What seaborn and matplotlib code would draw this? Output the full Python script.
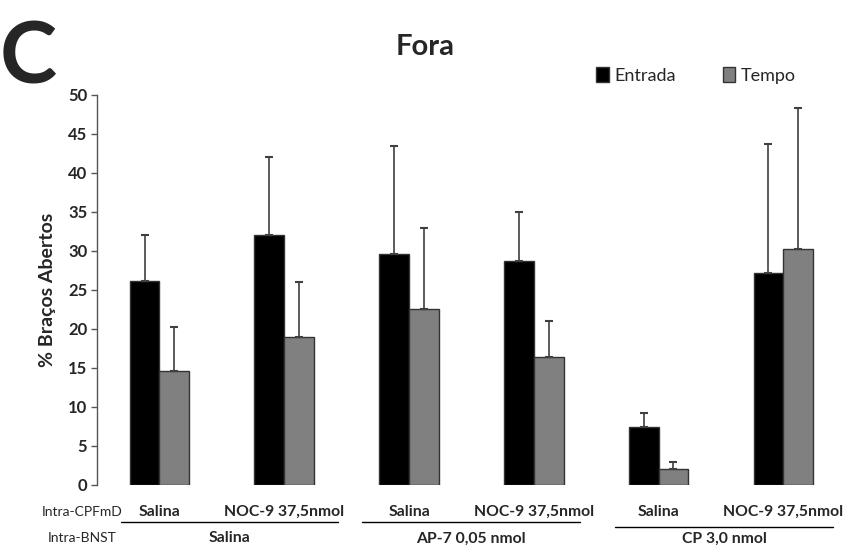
import pandas as pd
import matplotlib.pyplot as plt
import numpy as np
import seaborn as sns

# Group values (% open arms)
groups = ["Sal-Sal", "Sal-NOC", "AP7-Sal", "AP7-NOC", "CP-Sal", "CP-NOC"]
cpfmd_labels = ["Salina", "NOC-9 37,5nmol", "Salina", "NOC-9 37,5nmol", "Salina", "NOC-9 37,5nmol"]
bnst_labels = ["Salina", "AP-7 0,05 nmol", "CP 3,0 nmol"]
entrada = [26.2, 32.0, 29.6, 28.7, 7.4, 27.2]
entrada_err = [5.8, 10.0, 13.9, 6.3, 1.8, 16.5]
tempo = [14.6, 19.0, 22.5, 16.4, 2.0, 30.2]
tempo_err = [5.7, 7.0, 10.5, 4.6, 0.9, 18.1]
yticks = [0, 5, 10, 15, 20, 25, 30, 35, 40, 45, 50]

df = pd.DataFrame({
    "grupo": groups * 2,
    "medida": ["Entrada"] * len(groups) + ["Tempo"] * len(groups),
    "valor": entrada + tempo,
})
errors = {"Entrada": entrada_err, "Tempo": tempo_err}

sns.set_style("white")
plt.rcParams["font.family"] = ["Lato", "DejaVu Sans"]

fig = plt.figure(figsize=(8.46, 5.52), dpi=100)
ax = fig.add_axes([0.1147, 0.1214, 0.885, 0.7065])

sns.barplot(
    data=df, x="grupo", y="valor", hue="medida",
    palette={"Entrada": "black", "Tempo": "#808080"},
    width=0.477, edgecolor="#333333", linewidth=1,
    errorbar=None, ax=ax,
)

# Upper-only error bars on each bar
for container, level in zip(ax.containers, ["Entrada", "Tempo"]):
    for patch, err in zip(container.patches, errors[level]):
        xc = patch.get_x() + patch.get_width() / 2
        ax.errorbar(xc, patch.get_height(), yerr=[[0], [err]], fmt="none",
                    ecolor="#404040", elinewidth=1.2, capsize=3, capthick=1.5)

ax.set_xlim(-0.5, 5.5)
ax.set_ylim(0, 50)
ax.set_yticks(yticks)
ax.set_yticklabels([str(t) for t in yticks], fontweight="bold", fontsize=12)
ax.set_xticks([])
ax.set_xlabel("")
ax.set_ylabel("% Braços Abertos", fontweight="bold", fontsize=14, labelpad=9)
ax.tick_params(axis="y", direction="out", length=4, width=1, color="#555555", pad=3, left=True)
for s in ["top", "right", "bottom"]:
    ax.spines[s].set_visible(False)
ax.spines["left"].set_color("#555555")
ax.spines["left"].set_linewidth(1)

# Legend
handles, labels = ax.get_legend_handles_labels()
ax.legend(handles, labels, ncol=2, frameon=False, loc="center left",
          bbox_to_anchor=(0.645, 1.05), fontsize=13, handlelength=0.7,
          handleheight=0.9, handletextpad=0.3, columnspacing=2.6)

# Category labels under the bars
trans = ax.get_xaxis_transform()
for i, lab in enumerate(cpfmd_labels):
    ax.text(i, -0.07, lab, transform=trans, ha="center", va="center",
            fontsize=11.3, fontweight="bold", clip_on=False)
spans = [(-0.31, 1.43, -0.094), (1.62, 3.37, -0.096), (3.65, 5.4, -0.107)]
for (x0, x1, yy), lab in zip(spans, bnst_labels):
    ax.plot([x0, x1], [yy, yy], transform=trans, color="black", lw=1, clip_on=False)
    ax.text((x0 + x1) / 2, -0.137, lab, transform=trans, ha="center", va="center",
            fontsize=11.3, fontweight="bold", clip_on=False)

fig.text(82 / 846, 1 - 512 / 552, "Intra-CPFmD", ha="center", va="center", fontsize=10)
fig.text(82 / 846, 1 - 538 / 552, "Intra-BNST", ha="center", va="center", fontsize=10)

fig.text(425 / 846, 1 - 47 / 552, "Fora", ha="center", va="center", fontsize=21, fontweight="bold")
fig.text(28 / 846, 1 - 84 / 552, "C", ha="center", va="baseline", fontsize=62, fontweight="bold")

plt.savefig("out.png", dpi=100)
